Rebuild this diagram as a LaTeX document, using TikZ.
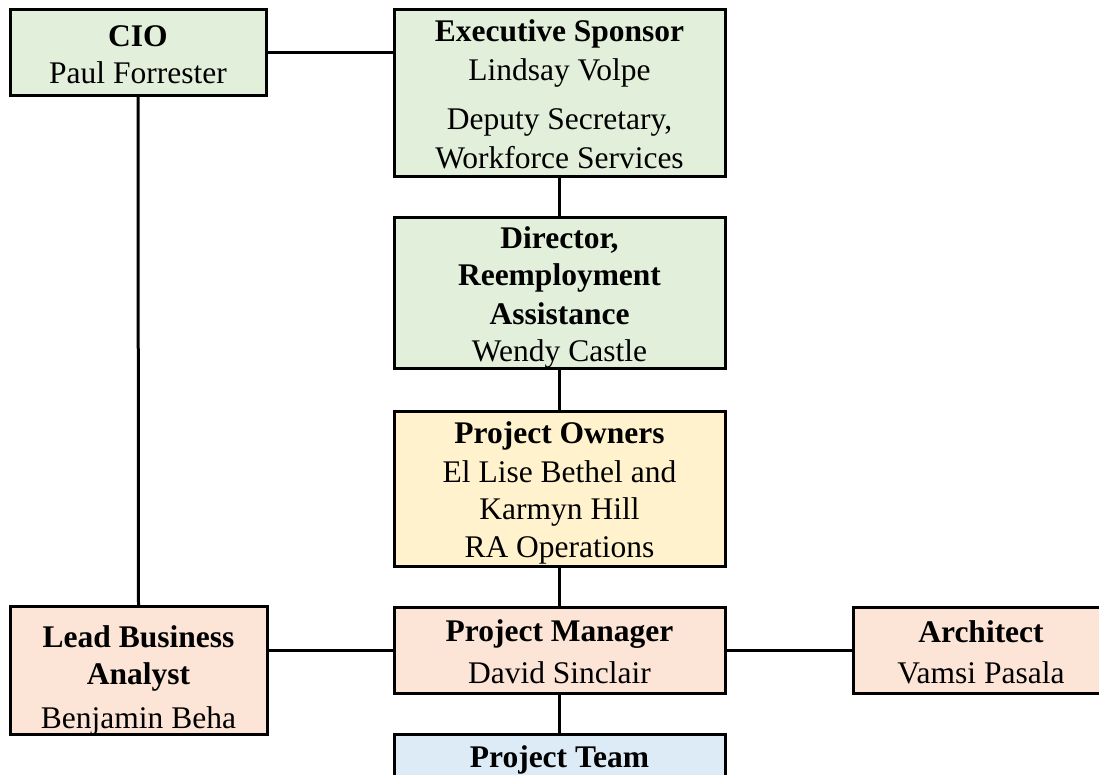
\documentclass[tikz,border=0pt]{standalone}
\usepackage{fontspec}
\setmainfont{Liberation Serif}
\definecolor{gfill}{HTML}{E2EFDA}
\definecolor{yfill}{HTML}{FFF2CC}
\definecolor{pfill}{HTML}{FCE4D6}
\definecolor{bfill}{HTML}{DDEBF7}
\newcommand{\myst}{\rule[-6pt]{0pt}{37pt}}
\newcommand{\mytall}[1]{\rule[-6pt]{0pt}{#1}}
\begin{document}
\begin{tikzpicture}[x=1pt,y=-1pt,
  box/.style={draw=black,line width=3pt,rectangle,align=center,inner sep=0pt,
    font=\fontsize{31.5}{37}\selectfont},
  link/.style={draw=black,line width=3pt}]
\useasboundingbox (0,0) rectangle (1099,774);
\clip (0,0) rectangle (1099,774);
\node[box,fill=gfill,minimum width=256pt,minimum height=86pt] (cio) at (138,52)
  {\myst\textbf{CIO}\\\myst Paul Forrester};
\node[box,fill=gfill,minimum width=331pt,minimum height=167pt] (exec) at (559.5,92.5)
  {\myst\textbf{Executive Sponsor}\\\myst Lindsay Volpe\\[10pt]\myst Deputy Secretary,\\\myst Workforce Services};
\node[box,fill=gfill,minimum width=331pt,minimum height=151pt] (dir) at (559.5,292.5)
  {\myst\textbf{Director,}\\\myst\textbf{Reemployment}\\\myst\textbf{Assistance}\\\myst Wendy Castle};
\node[box,fill=yfill,minimum width=331pt,minimum height=155pt] (own) at (559.5,488.5)
  {\myst\textbf{Project Owners}\\\myst El Lise Bethel and\\\myst Karmyn Hill\\\myst RA Operations};
\node[box,fill=pfill,minimum width=257pt,minimum height=127pt] (lba) at (138.5,670.5)
  {\mytall{47pt}\textbf{Lead Business}\\\myst\textbf{Analyst}\\[5pt]\myst Benjamin Beha};
\node[box,fill=pfill,minimum width=331pt,minimum height=86pt] (pm) at (559.5,650)
  {\myst\textbf{Project Manager}\\[4pt]\myst David Sinclair};
\node[box,fill=pfill,minimum width=256pt,minimum height=86pt] (arch) at (981,650)
  {\myst\textbf{Architect}\\[4pt]\myst Vamsi Pasala};
\node[box,fill=bfill,minimum width=331pt,minimum height=43pt] (team) at (559.5,755.5)
  {\myst\textbf{Project Team}};
\draw[link] (cio.east) -- (cio.east -| exec.west);
\draw[link] (cio.south) -- (lba.north);
\draw[link] (exec.south) -- (dir.north);
\draw[link] (dir.south) -- (own.north);
\draw[link] (own.south) -- (pm.north);
\draw[link] (pm.south) -- (team.north);
\draw[link] (pm.west) -- (lba.east |- pm.west);
\draw[link] (pm.east) -- (arch.west);
\end{tikzpicture}
\end{document}
